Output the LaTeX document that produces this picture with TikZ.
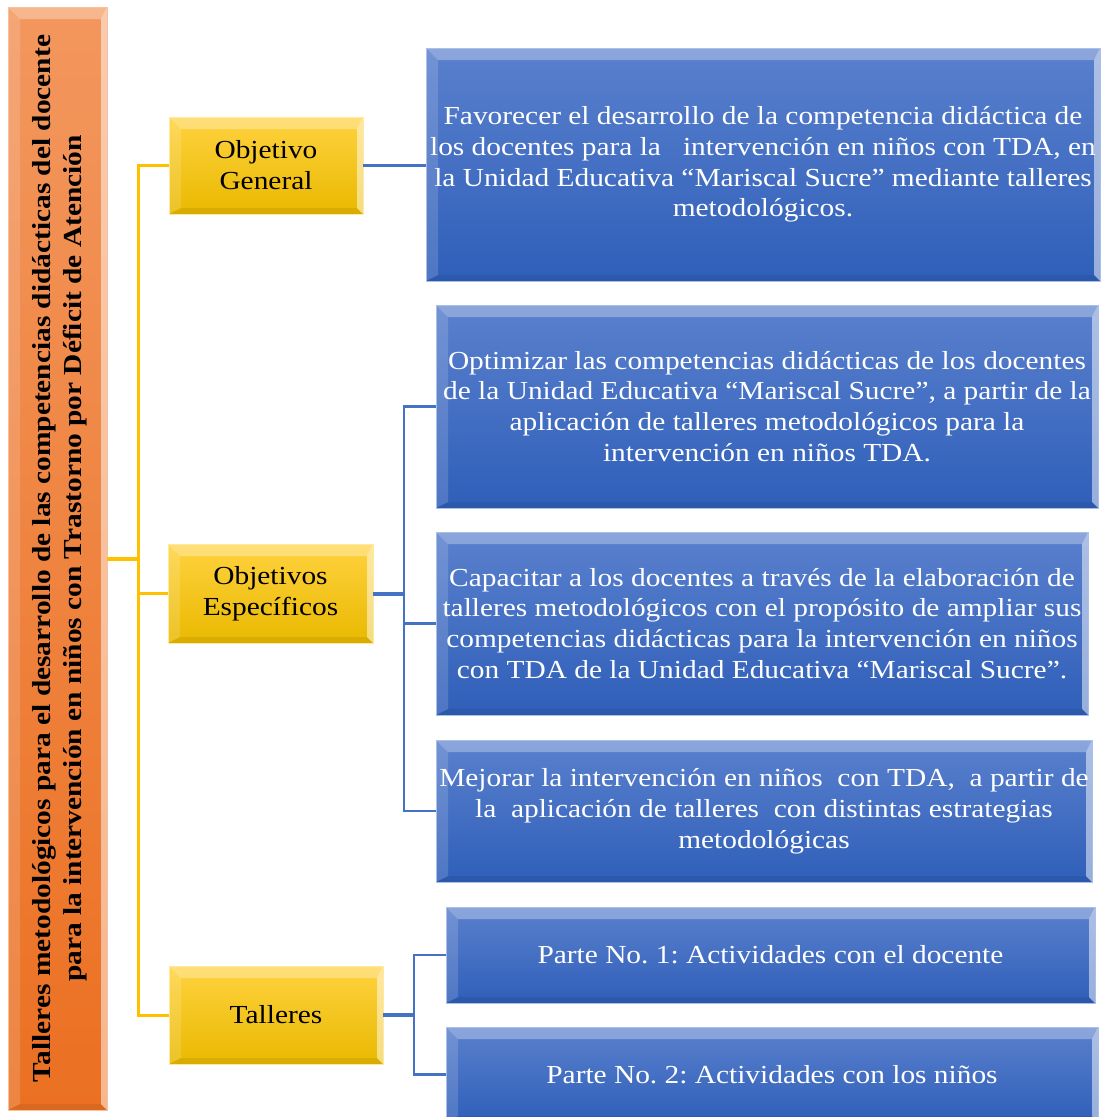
\documentclass[tikz,border=0pt]{standalone}
\usepackage{fontspec}
\setmainfont[FakeStretch=1.13]{Liberation Serif}

\definecolor{naranjaA}{HTML}{F3975E}
\definecolor{naranjaB}{HTML}{EB7022}
\definecolor{amarilloA}{HTML}{FFD23F}
\definecolor{amarilloB}{HTML}{E9B900}
\definecolor{azulA}{HTML}{5A80CD}
\definecolor{azulB}{HTML}{2F5FB9}
\definecolor{lineaY}{HTML}{FFC000}
\definecolor{lineaB}{HTML}{4472C4}

\newcommand\letra{\fontsize{26}{30.8}\selectfont\frenchspacing}

\tikzset{
  bisel/.style={path picture={
    \coordinate (nw) at (path picture bounding box.north west);
    \coordinate (ne) at (path picture bounding box.north east);
    \coordinate (sw) at (path picture bounding box.south west);
    \coordinate (se) at (path picture bounding box.south east);
    \fill[white,opacity=.3] (nw) -- (ne) -- ([shift={(-6pt,-12pt)}]ne) -- ([shift={(12pt,-12pt)}]nw) -- cycle;
    \fill[white,opacity=.15] (nw) -- ([shift={(12pt,-12pt)}]nw) -- ([shift={(12pt,6pt)}]sw) -- (sw) -- cycle;
    \fill[white,opacity=.5] (ne) -- (se) -- ([shift={(-6pt,6pt)}]se) -- ([shift={(-6pt,-12pt)}]ne) -- cycle;
    \fill[black,opacity=.07] (sw) -- ([shift={(12pt,6pt)}]sw) -- ([shift={(-6pt,6pt)}]se) -- (se) -- cycle;
  }},
  caja/.style={bisel, inner sep=0pt, align=center, font=\letra},
  cajanaranja/.style={caja, top color=naranjaA, bottom color=naranjaB, draw=naranjaA!60!white, line width=.8pt},
  cajaamarilla/.style={caja, top color=amarilloA, bottom color=amarilloB, draw=amarilloA!50!white, line width=.8pt},
  cajaazul/.style={caja, text=white, top color=azulA, bottom color=azulB, draw=azulA!50!white, line width=.8pt},
  lineaamarilla/.style={draw=lineaY, line width=3pt},
  lineaazul/.style={draw=lineaB, line width=2.5pt},
}

\begin{document}
\begin{tikzpicture}[x=1pt, y=-1pt]

\useasboundingbox (0,0) rectangle (1102,1117);

% titulo vertical
\node[cajanaranja, minimum width=99pt, minimum height=1103pt] (titulo) at (57.5,558.5) {};
\node[rotate=90, align=center, font=\letra\bfseries, inner sep=0pt] (titulotxt) at ([xshift=2pt]titulo.center)
  {Talleres metodológicos para el desarrollo de las competencias didácticas del docente\\
   para la intervención en niños con Trastorno por Déficit de Atención};

% objetivos y talleres
\node[cajaamarilla, minimum width=194pt, minimum height=97pt] (og) at (266,165.5) {Objetivo\\General};
\node[cajaamarilla, minimum width=205pt, minimum height=99pt] (oe) at (270.5,593.5) {Objetivos\\Específicos};
\node[cajaamarilla, minimum width=214pt, minimum height=98pt] (tal) at (276,1015) {Talleres};

% contenidos
\node[cajaazul, minimum width=674pt, minimum height=233pt] (fav) at (763,164.5)
  {Favorecer el desarrollo de la competencia didáctica de\\
   los docentes para la \ \ intervención en niños con TDA, en\\
   la Unidad Educativa “Mariscal Sucre” mediante talleres\\
   metodológicos.};
\node[cajaazul, minimum width=662pt, minimum height=203pt] (opt) at (767,406.5)
  {Optimizar las competencias didácticas de los docentes\\
   de la Unidad Educativa “Mariscal Sucre”, a partir de la\\
   aplicación de talleres metodológicos para la\\
   intervención en niños TDA.};
\node[cajaazul, minimum width=652pt, minimum height=183pt] (cap) at (762,623.5)
  {Capacitar a los docentes a través de la elaboración de\\
   talleres metodológicos con el propósito de ampliar sus\\
   competencias didácticas para la intervención en niños\\
   con TDA de la Unidad Educativa “Mariscal Sucre”.};
\node[cajaazul, minimum width=656pt, minimum height=142pt] (mej) at (764,811)
  {Mejorar la intervención en niños \ con TDA, \ a partir de\\
   la \ aplicación de talleres \ con distintas estrategias\\
   metodológicas};
\node[cajaazul, minimum width=649pt, minimum height=96pt] (p1) at (770.5,955)
  {Parte No. 1: Actividades con el docente};
\node[cajaazul, minimum width=652pt, minimum height=95pt] (p2) at (772,1074.5)
  {Parte No. 2: Actividades con los niños};

% conectores
\coordinate (ys) at (138,0);
\coordinate (bs) at (404,0);
\coordinate (bt) at (414,0);

\draw[lineaamarilla, line width=4pt] (titulo.east) -- (titulo.east -| ys);
\draw[lineaamarilla] (og.west) -| (ys |- tal.west) -- (tal.west);
\draw[lineaamarilla] (ys |- oe.west) -- (oe.west);

\draw[lineaazul] (og.east) -- (og.east -| fav.west);
\draw[lineaazul, line width=4pt] (oe.east) -- (oe.east -| bs);
\draw[lineaazul] (opt.west) -| (bs |- mej.west) -- (mej.west);
\draw[lineaazul] (bs |- cap.west) -- (cap.west);
\draw[lineaazul, line width=4pt] (tal.east) -- (tal.east -| bt);
\draw[lineaazul] (p1.west) -| (bt |- p2.west) -- (p2.west);

\end{tikzpicture}
\end{document}
